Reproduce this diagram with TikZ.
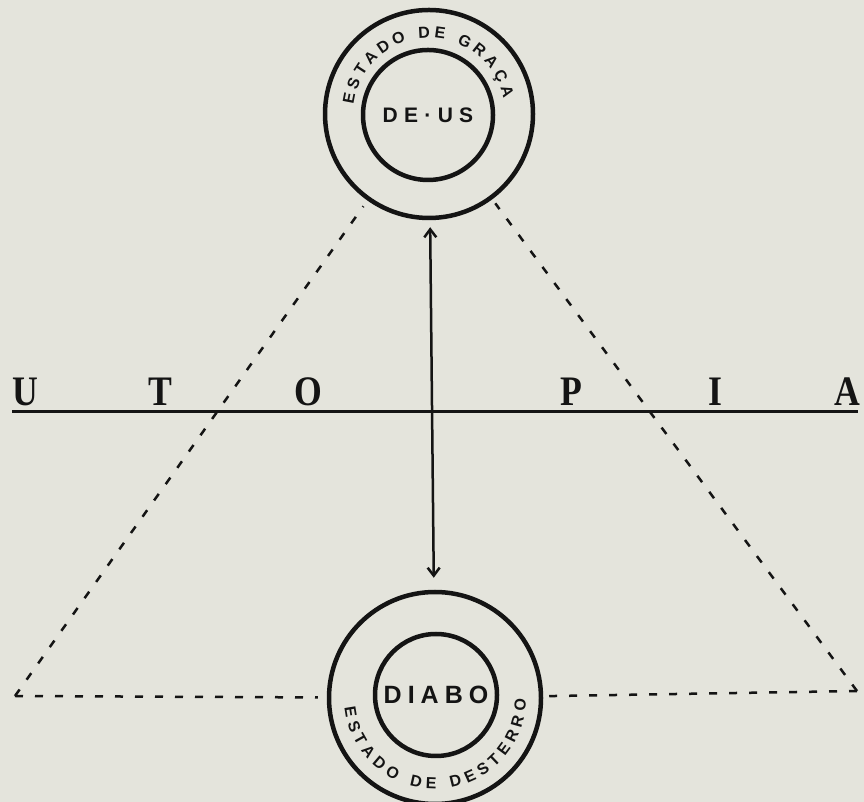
\documentclass[tikz,border=0pt]{standalone}
\usepackage{fontspec}
\setmainfont{Liberation Serif}
\newfontfamily\sealfont{Liberation Sans}
\usetikzlibrary{arrows.meta,decorations.text,calc}

\definecolor{paper}{RGB}{228,228,220}
\definecolor{ink}{RGB}{20,20,20}
\newcommand\arcfont{\sealfont\bfseries\fontsize{16}{16}\selectfont}

\begin{document}
\begin{tikzpicture}[x=1pt, y=1pt, >={Straight Barb[length=8pt,width=12pt,line width=2.5pt]},
    ring/.style={draw=ink, circle, line width=4.5pt, inner sep=0pt},
    godname/.style={font=\sealfont\bfseries\fontsize{#1}{#1}\selectfont, text=ink},
    utopia/.style={font=\bfseries\fontsize{42}{42}\selectfont, text=ink, anchor=base, xscale=0.85},
    dashline/.style={draw=ink, line width=2.5pt, dash pattern=on 8pt off 12pt}]
    % paper
    \fill[paper] (0,0) rectangle (864,802);
    \useasboundingbox (0,0) rectangle (864,802);
    % Deus
    \node[ring, minimum size=208pt] (deus) at (429,688) {};
    \node[ring, minimum size=130pt, godname=21] (deusin) at (428,687) {\addfontfeature{LetterSpace=30}DE·US};
    \path[decorate, decoration={text along path, text align={fit to path},
        text={|\arcfont\color{ink}|ESTADO DE GRAÇA}}]
        ($(deus.center)+(173:76pt)$) arc[start angle=173, end angle=12, radius=76pt];
    % Diabo
    \node[ring, minimum size=212pt] (diabo) at (435,104) {};
    \node[ring, minimum size=122pt, godname=25] (diaboin) at (436,107) {\addfontfeature{LetterSpace=24}DIABO};
    \path[decorate, decoration={text along path, text align={fit to path},
        text={|\arcfont\color{ink}|ESTADO DE DESTERRO}}]
        ($(diabo.center)+(186:91pt)$) arc[start angle=186, end angle=359, radius=91pt];
    % Utopia
    \coordinate (lineL) at (12,390);
    \coordinate (lineR) at (858,390);
    \draw[ink, line width=3pt] (lineL) -- (lineR);
    \node[utopia] (u) at (25,396) {U};
    \node[utopia] (t) at (160,396) {T};
    \node[utopia] (o) at (308,396) {O};
    \node[utopia] (p) at (571,396) {P};
    \node[utopia] (i) at (715,396) {I};
    \node[utopia] (a) at (847,396) {A};
    % triangle
    \coordinate (lc) at (15,106);
    \coordinate (rc) at (857,111);
    \draw[dashline, shorten >=7pt] (lc) -- (deus);
    \draw[dashline, shorten >=5pt] (rc) -- (deus);
    \draw[dashline, shorten >=9pt] (lc) -- (diabo);
    \draw[dashline, shorten >=6pt] (rc) -- (diabo);
    % arrow
    \draw[<->, ink, line width=2.5pt, shorten <=7pt, shorten >=12pt] (deus) -- (diabo);
\end{tikzpicture}
\end{document}
